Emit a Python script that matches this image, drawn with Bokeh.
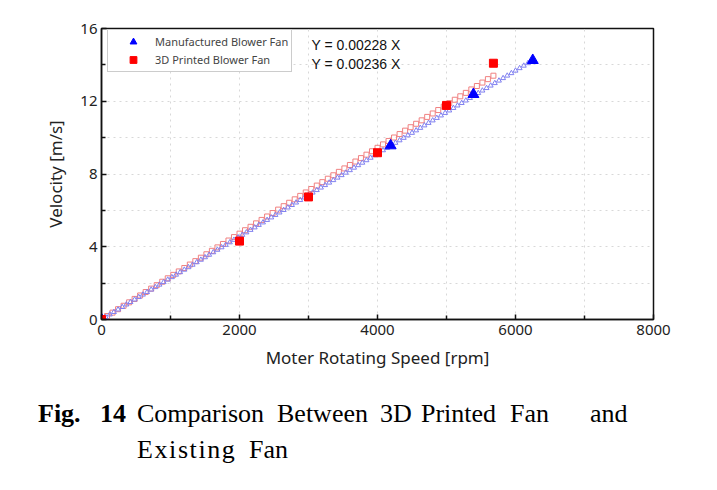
import numpy as np
from bokeh.plotting import figure
from bokeh.layouts import column
from bokeh.models import FixedTicker, Label, Legend, LegendItem, Range1d, Div
from bokeh.embed import file_html
from bokeh.resources import INLINE

# ---- data ----
red_rpm = [0, 2000, 3000, 4000, 5000, 5680]
red_vel = [0, 4.31, 6.74, 9.17, 11.77, 14.09]
blue_rpm = [0, 4190, 5390, 6250]
blue_vel = [0, 9.56, 12.38, 14.25]
slope_blue = 0.00228   # fit: Y = 0.00228 X
slope_red = 0.00236    # fit: Y = 0.00236 X
x_ticks = [0, 2000, 4000, 6000, 8000]
x_minor = [1000, 3000, 5000, 7000]
y_ticks = [0, 4, 8, 12, 16]
y_minor = [2, 6, 10, 14]
legend_labels = ["Manufactured Blower Fan", "3D Printed Blower Fan"]
fit_labels = ["Y = 0.00228 X", "Y = 0.00236 X"]
xlabel = "Moter Rotating Speed [rpm]"
ylabel = "Velocity [m/s]"
caption_bold = ["Fig.", "14"]
caption_line1 = ["Comparison", "Between", "3D", "Printed", "Fan", "and"]
caption_line2 = ["Existing", "Fan"]

W, H = 709, 380
BL, BR, BT, BB = 101, 56, 28, 61
frame_w = W - BL - BR
frame_h = H - BT - BB
X0, X1, Y0, Y1 = 0, 8000, 0, 16

p = figure(width=W, height=H, x_range=Range1d(X0, X1), y_range=Range1d(Y0, Y1),
           output_backend="svg", toolbar_location=None,
           min_border_left=BL, min_border_right=BR, min_border_top=BT, min_border_bottom=BB)
p.background_fill_color = "white"
p.border_fill_color = "white"
p.outline_line_color = "#111111"
p.outline_line_width = 1.5

# grid
p.xgrid.ticker = FixedTicker(ticks=sorted(x_ticks + x_minor))
p.ygrid.ticker = FixedTicker(ticks=sorted(y_ticks + y_minor))
for g in (p.xgrid, p.ygrid):
    g.grid_line_color = "#d8d8d8"
    g.grid_line_dash = "dotted"
    g.grid_line_width = 1

# axes
p.xaxis.ticker = FixedTicker(ticks=x_ticks, minor_ticks=x_minor)
p.yaxis.ticker = FixedTicker(ticks=y_ticks, minor_ticks=y_minor)
for ax in (p.xaxis, p.yaxis):
    ax.axis_line_color = "#111111"
    ax.axis_line_width = 1.5
    ax.major_tick_in = 5
    ax.major_tick_out = 0
    ax.minor_tick_in = 4
    ax.minor_tick_out = 0
    ax.major_tick_line_color = "#111111"
    ax.minor_tick_line_color = "#111111"
    ax.major_tick_line_width = 1.5
    ax.minor_tick_line_width = 1.5
    ax.major_label_text_font = "Noto Sans"
    ax.major_label_text_font_size = "15px"
    ax.major_label_text_color = "#222222"
    ax.axis_label_text_font = "Noto Sans"
    ax.axis_label_text_font_size = "17px"
    ax.axis_label_text_font_style = "normal"
    ax.axis_label_text_color = "#222222"
p.xaxis.axis_label = xlabel
p.yaxis.axis_label = ylabel
p.xaxis.major_label_standoff = 5
p.yaxis.major_label_standoff = 4
p.xaxis.axis_label_standoff = 8
p.yaxis.axis_label_standoff = 10

# fit lines drawn as dense hollow markers (as in the original)
fx_red = np.arange(0, max(red_rpm) + 1, 80)
fx_blue = np.arange(0, max(blue_rpm) + 1, 60)
p.scatter(fx_red, slope_red * fx_red, marker="square", size=5,
          fill_color=None, line_color="#f08080", line_width=1)
p.scatter(fx_blue, slope_blue * fx_blue, marker="triangle", size=5,
          fill_color=None, line_color="#8080f0", line_width=1)

# data points
r_blue = p.scatter(blue_rpm, blue_vel, marker="triangle", size=11,
                   fill_color="#0000ff", line_color="#0000ff")
r_red = p.scatter(red_rpm, red_vel, marker="square", size=8,
                  fill_color="#ff0000", line_color="#ff0000")

legend = Legend(items=[LegendItem(label=legend_labels[0], renderers=[r_blue]),
                       LegendItem(label=legend_labels[1], renderers=[r_red])],
                location=(6, frame_h - 3 - 41))
legend.padding = 3
legend.spacing = 1
legend.margin = 0
legend.glyph_width = 44
legend.glyph_height = 17
legend.label_height = 17
legend.label_standoff = 0
legend.label_text_font = "Noto Sans"
legend.label_text_font_size = "11px"
legend.label_text_color = "#444444"
legend.border_line_color = "#9a9a9a"
legend.border_line_width = 1
legend.background_fill_color = "white"
legend.background_fill_alpha = 1
p.add_layout(legend)

# helpers: convert canvas-pixel layout positions to data coordinates
def dx(px):
    return X0 + (px - BL) / frame_w * (X1 - X0)

def dy(py):
    return Y0 + (BT + frame_h - py) / frame_h * (Y1 - Y0)

for txt, py in zip(fit_labels, [44, 63]):
    p.add_layout(Label(x=dx(311), y=dy(py), text=txt, text_font="Liberation Sans",
                       text_font_size="14px", text_color="#111111",
                       text_baseline="middle", text_align="left"))

# caption (justified words, placed individually)
def span(txt, left, top, bold=False, ls=0):
    weight = "bold" if bold else "normal"
    return (f'<span style="position:absolute;left:{left}px;top:{top}px;'
            f'font-weight:{weight};letter-spacing:{ls}px;white-space:nowrap;">{txt}</span>')

spans = []
top1, top2 = 401 - H, 437 - H
for txt, px in zip(caption_bold, [38, 100]):
    spans.append(span(txt, px, top1, bold=True))
for txt, px in zip(caption_line1, [137, 277, 380, 421, 510, 590]):
    spans.append(span(txt, px, top1))
for (txt, px), ls in zip(zip(caption_line2, [137, 249]), [1.6, 0]):
    spans.append(span(txt, px, top2, ls=ls))

cap = Div(text=('<div style="position:relative;width:700px;height:100px;'
                "font-family:'Liberation Serif';font-size:26px;line-height:26px;color:black;\">"
                + "".join(spans) + "</div>"),
          width=700, height=100, margin=(0, 0, 0, 0))

layout = column(p, cap, spacing=0)
open("out.html", "w").write(file_html(layout, INLINE))
